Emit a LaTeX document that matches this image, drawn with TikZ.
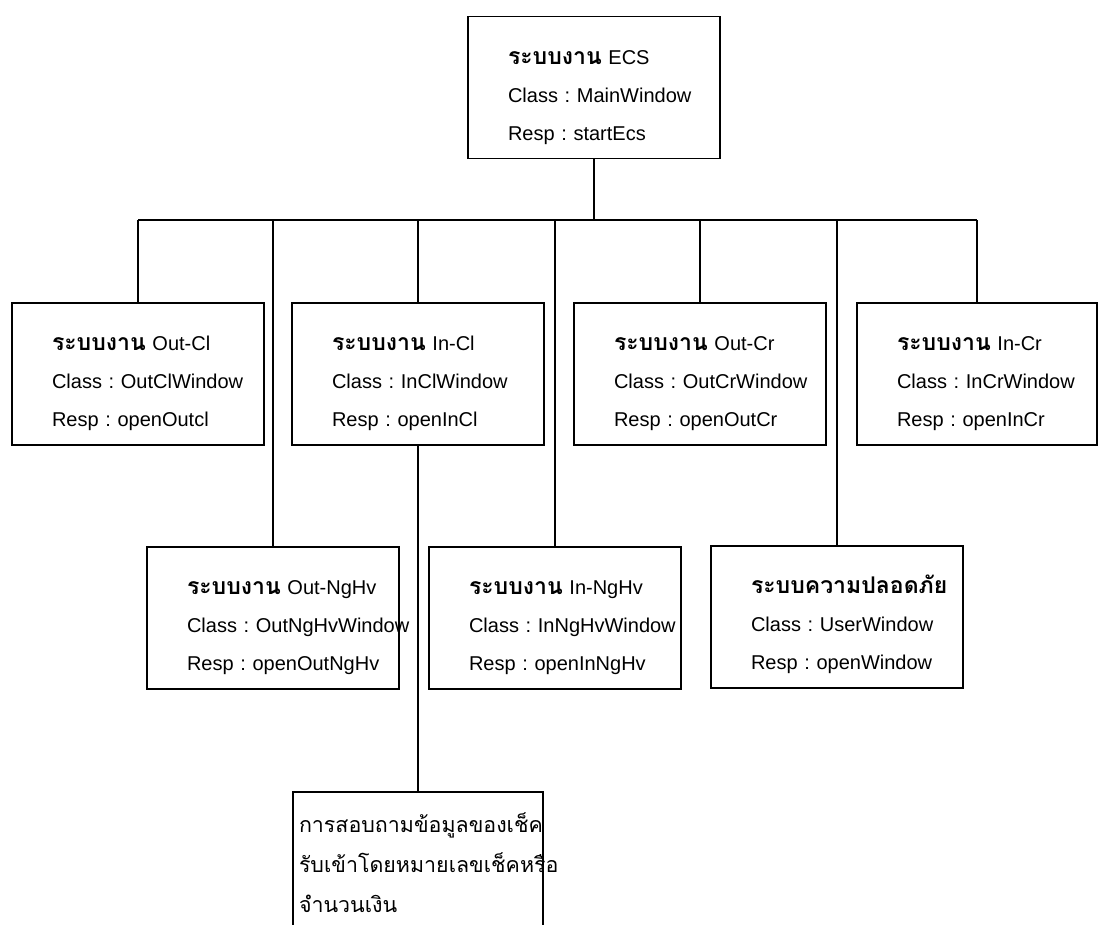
\documentclass[tikz,border=0pt]{standalone}
\usepackage{fontspec}
\setmainfont{Liberation Sans}
\newfontfamily\thaifont[Script=Thai]{Loma}
\usepackage{tikz}
\usetikzlibrary{calc}
\hyphenpenalty=10000
\exhyphenpenalty=10000
\newcommand{\thaititle}[1]{{\thaifont\bfseries\fontsize{23}{38}\selectfont #1}}

\begin{document}
\begin{tikzpicture}[x=1pt, y=-1pt, line width=1.5pt]

                % Box styles, one unit is one pixel of the picture
                \tikzset{
                    card/.style={draw, rectangle, anchor=north,
                        minimum height=142pt, inner xsep=40pt, inner ysep=0pt,
                        text width=172pt, align=left,
                        font=\fontsize{20}{38}\selectfont},
                    querybox/.style={draw, rectangle, anchor=north,
                        inner xsep=6pt, inner ysep=0pt, text width=238pt,
                        align=left, font=\thaifont\fontsize{21.4}{40}\selectfont}
                }

                % Page frame, the last box runs off the bottom
                \useasboundingbox (0, 0) rectangle (1100, 925);
                \clip (0, 0) rectangle (1100, 925);

                % Level of the line that joins all the subsystems
                \begin{scope}
                    \coordinate (bus) at (594, 220);
                \end{scope}

                % Main system
                \node[card] (ecs) at (594, 16)
                    {\rule{0pt}{34pt}\thaititle{ระบบงาน}~ECS\\
                     Class~:~MainWindow\\ Resp~:~startEcs};

                % First row of subsystems
                \node[card] (outcl) at (138, 302)
                    {\rule{0pt}{34pt}\thaititle{ระบบงาน}~Out-Cl\\
                     Class~:~OutClWindow\\ Resp~:~openOutcl};
                \node[card] (incl) at (418, 302)
                    {\rule{0pt}{34pt}\thaititle{ระบบงาน}~In-Cl\\
                     Class~:~InClWindow\\ Resp~:~openInCl};
                \node[card] (outcr) at (700, 302)
                    {\rule{0pt}{34pt}\thaititle{ระบบงาน}~Out-Cr\\
                     Class~:~OutCrWindow\\ Resp~:~openOutCr};
                \node[card, text width=160pt] (incr) at (977, 302)
                    {\rule{0pt}{34pt}\thaititle{ระบบงาน}~In-Cr\\
                     Class~:~InCrWindow\\ Resp~:~openInCr};

                % Second row of subsystems
                \node[card] (outngh) at (273, 546)
                    {\rule{0pt}{34pt}\thaititle{ระบบงาน}~Out-NgHv\\
                     Class~:~OutNgHvWindow\\ Resp~:~openOutNgHv};
                \node[card] (inngh) at (555, 546)
                    {\rule{0pt}{34pt}\thaititle{ระบบงาน}~In-NgHv\\
                     Class~:~InNgHvWindow\\ Resp~:~openInNgHv};
                \node[card] (security) at (837, 545)
                    {\rule{0pt}{34pt}\thaititle{ระบบความปลอดภัย}\\
                     Class~:~UserWindow\\ Resp~:~openWindow};

                % Query under In-Cl
                \node[querybox] (query) at (418, 791)
                    {\rule{0pt}{41pt}การสอบถามข้อมูลของเช็ค\\
                     รับเข้าโดยหมายเลขเช็คหรือ\\
                     จำนวนเงิน\rule[-60pt]{0pt}{0pt}};

                % Connectors
                \begin{scope}
                    \draw (ecs.south) -- (bus);
                    \draw (outcl.north |- bus) -- (incr.north |- bus);
                    \draw (outcl.north) -- (outcl.north |- bus);
                    \draw (outngh.north) -- (outngh.north |- bus);
                    \draw (incl.north) -- (incl.north |- bus);
                    \draw (inngh.north) -- (inngh.north |- bus);
                    \draw (outcr.north) -- (outcr.north |- bus);
                    \draw (security.north) -- (security.north |- bus);
                    \draw (incr.north) -- (incr.north |- bus);
                    \draw (incl.south) -- (query.north);
                \end{scope}

\end{tikzpicture}
\end{document}
